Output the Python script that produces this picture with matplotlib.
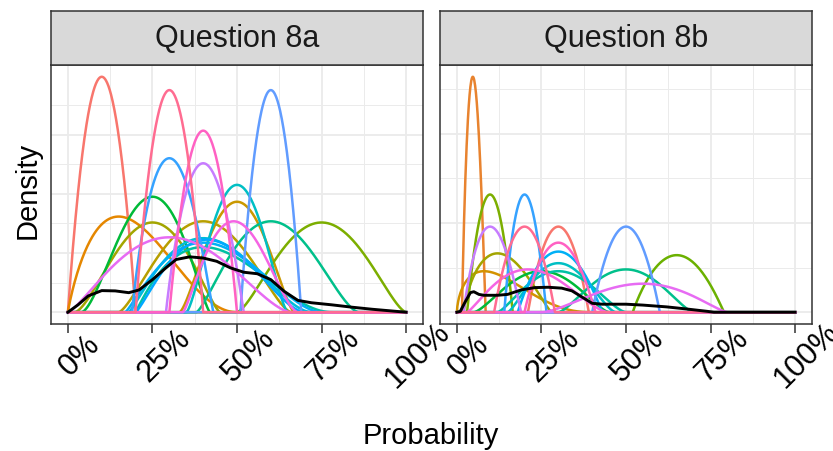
import numpy as np
import matplotlib
matplotlib.use("Agg")
import matplotlib.pyplot as plt

plt.rcParams['font.family'] = ['Liberation Sans', 'DejaVu Sans']

# ---- data (x = probability, y = density) ----
# each respondent curve: lower end, mode, upper end, peak density
panel_titles = ["Question 8a", "Question 8b"]
tick_vals = [0, 0.25, 0.5, 0.75, 1.0]
tick_labels = ['0%', '25%', '50%', '75%', '100%']

a_lo   = [0.00, 0.00, 0.33, 0.02, 0.15, 0.50, 0.04, 0.38, 0.20, 0.35, 0.18, 0.17, 0.20, 0.19, 0.51, 0.29, 0.00, 0.34, 0.30, 0.20]
a_mode = [0.10, 0.15, 0.50, 0.25, 0.40, 0.75, 0.25, 0.60, 0.40, 0.50, 0.40, 0.40, 0.41, 0.30, 0.60, 0.40, 0.30, 0.49, 0.40, 0.30]
a_hi   = [0.20, 0.50, 0.67, 0.45, 0.66, 1.00, 0.42, 0.86, 0.78, 0.65, 0.72, 0.75, 0.70, 0.43, 0.69, 0.52, 0.66, 0.68, 0.50, 0.40]
a_peak = [7.95, 3.23, 3.73, 3.03, 3.07, 3.03, 3.90, 3.07, 2.20, 4.30, 2.50, 2.35, 2.45, 5.20, 7.50, 5.03, 2.53, 3.07, 6.13, 7.50]

b_lo   = [0.21, 0.015, 0.00, 0.02, 0.03, 0.52, 0.05, 0.30, 0.12, 0.15, 0.18, 0.14, 0.40, 0.02, 0.25, 0.03, 0.20, 0.11]
b_mode = [0.30, 0.047, 0.08, 0.12, 0.098, 0.65, 0.25, 0.50, 0.30, 0.30, 0.30, 0.20, 0.50, 0.098, 0.55, 0.21, 0.30, 0.20]
b_hi   = [0.39, 0.085, 0.40, 0.28, 0.165, 0.79, 0.45, 0.70, 0.50, 0.47, 0.43, 0.265, 0.60, 0.19, 0.80, 0.45, 0.41, 0.29]
b_peak = [4.80, 13.2, 2.30, 3.30, 6.60, 3.20, 2.30, 2.40, 2.30, 2.75, 3.40, 6.60, 4.80, 4.80, 1.60, 2.40, 3.90, 4.80]

# pooled (black) curve
a_pool_x = [0, 0.03, 0.06, 0.10, 0.14, 0.18, 0.21, 0.25, 0.29, 0.32, 0.36, 0.40, 0.44, 0.48,
            0.52, 0.56, 0.60, 0.64, 0.68, 0.72, 0.78, 0.84, 0.90, 0.95, 1.0]
a_pool_y = [0, 0.25, 0.55, 0.73, 0.72, 0.66, 0.75, 1.10, 1.50, 1.78, 1.87, 1.83, 1.72, 1.50,
            1.35, 1.30, 1.10, 0.70, 0.40, 0.32, 0.25, 0.17, 0.10, 0.05, 0.0]
b_pool_x = [0, 0.01, 0.025, 0.04, 0.05, 0.065, 0.08, 0.12, 0.15, 0.19, 0.23, 0.27, 0.31, 0.34,
            0.37, 0.40, 0.43, 0.50, 0.55, 0.62, 0.68, 0.74, 0.76, 1.0]
b_pool_y = [0, 0.05, 0.60, 1.10, 1.15, 1.00, 0.95, 0.95, 1.00, 1.25, 1.38, 1.40, 1.35, 1.20,
            0.85, 0.50, 0.45, 0.45, 0.40, 0.30, 0.18, 0.05, 0.0, 0.0]

a_colors = ['#F8766D', '#E58700', '#C99800', '#A3A500', '#B79F00', '#7CAE00', '#00BA38', '#00C08B',
            '#00C1A3', '#00BFC4', '#00BCD8', '#00B0F6', '#00A9FF', '#35A2FF', '#619CFF', '#C77CFF',
            '#E76BF3', '#F564E3', '#FF61C3', '#FF6C91']
b_colors = ['#F8766D', '#E8832F', '#D39200', '#A3A500', '#7CAE00', '#6BB100', '#00BA38', '#00C08B',
            '#00C1A3', '#00BFC4', '#00B0F6', '#35A2FF', '#619CFF', '#C77CFF', '#E76BF3', '#F564E3',
            '#FF61C3', '#FF6C91']

xs = np.linspace(0, 1, 801)


def curve(lo, mode, hi, peak):
    # narrow fits look parabolic, wide ones more bell shaped
    c = 2.0 if hi - lo < 0.3 else 3.0
    t = np.clip((xs - lo) / (hi - lo), 0, 1)
    m = (mode - lo) / (hi - lo)
    y = (t / m) ** (c * m) * ((1 - t) / (1 - m)) ** (c * (1 - m))
    y[(xs <= lo) | (xs >= hi)] = 0
    return peak * y


fig = plt.figure(figsize=(8.33, 4.51), dpi=100)
W, H = 833, 451
panels = [(51, 423), (440, 812)]
top, bottom, strip_top = 65, 324, 11

sets = [(a_lo, a_mode, a_hi, a_peak, a_colors, a_pool_x, a_pool_y, 2, 1),
        (b_lo, b_mode, b_hi, b_peak, b_colors, b_pool_x, b_pool_y, 5, 2.5)]

for (x0, x1), title, (lo, md, hi, pk, cols, px, py, major, minor) in zip(panels, panel_titles, sets):
    ax = fig.add_axes([x0 / W, 1 - bottom / H, (x1 - x0) / W, (bottom - top) / H])
    for i in range(len(lo)):
        ax.plot(xs, curve(lo[i], md[i], hi[i], pk[i]), color=cols[i], lw=1.8, zorder=3)
    ax.plot(px, py, color='black', lw=2.1, zorder=4)

    ymax = max(pk)
    ax.set_xlim(-0.05, 1.05)
    ax.set_ylim(-0.05 * ymax, 1.05 * ymax)
    ax.set_xticks(tick_vals)
    ax.set_xticks([0.125, 0.375, 0.625, 0.875], minor=True)
    ax.set_yticks(np.arange(0, ymax, major))
    ax.set_yticks(np.arange(minor, ymax, major), minor=True)
    ax.grid(which='major', color='#EBEBEB', lw=1.3, zorder=0)
    ax.grid(which='minor', color='#EBEBEB', lw=0.7, zorder=0)
    ax.set_axisbelow(True)
    ax.tick_params(axis='y', which='both', left=False, labelleft=False)
    ax.tick_params(axis='x', which='minor', bottom=False)
    ax.tick_params(axis='x', which='major', length=6.5, width=1.1, color='#333333', labelbottom=False)
    for s in ax.spines.values():
        s.set_color('#333333')
        s.set_linewidth(1.1)

    # rotated tick labels, placed below each tick
    for v, lab in zip(tick_vals, tick_labels):
        xp = x0 + (v + 0.05) / 1.1 * (x1 - x0)
        fig.text((xp + 12) / W, 1 - 356 / H, lab, rotation=45, ha='center', va='center',
                 rotation_mode='anchor', fontsize=22, color='black')

    sax = fig.add_axes([x0 / W, 1 - top / H, (x1 - x0) / W, (top - strip_top) / H])
    sax.set_xticks([])
    sax.set_yticks([])
    sax.set_facecolor('#D9D9D9')
    for s in sax.spines.values():
        s.set_color('#333333')
        s.set_linewidth(1.1)
    sax.text(0.5, 0.48, title, ha='center', va='center', fontsize=22, color='#1A1A1A')

fig.text(28 / W, 1 - 190 / H, 'Density', rotation=90, ha='center', va='center', fontsize=21)
fig.text(431 / W, 1 - 436 / H, 'Probability', ha='center', va='center', fontsize=21)

fig.savefig('out.png', dpi=100)
